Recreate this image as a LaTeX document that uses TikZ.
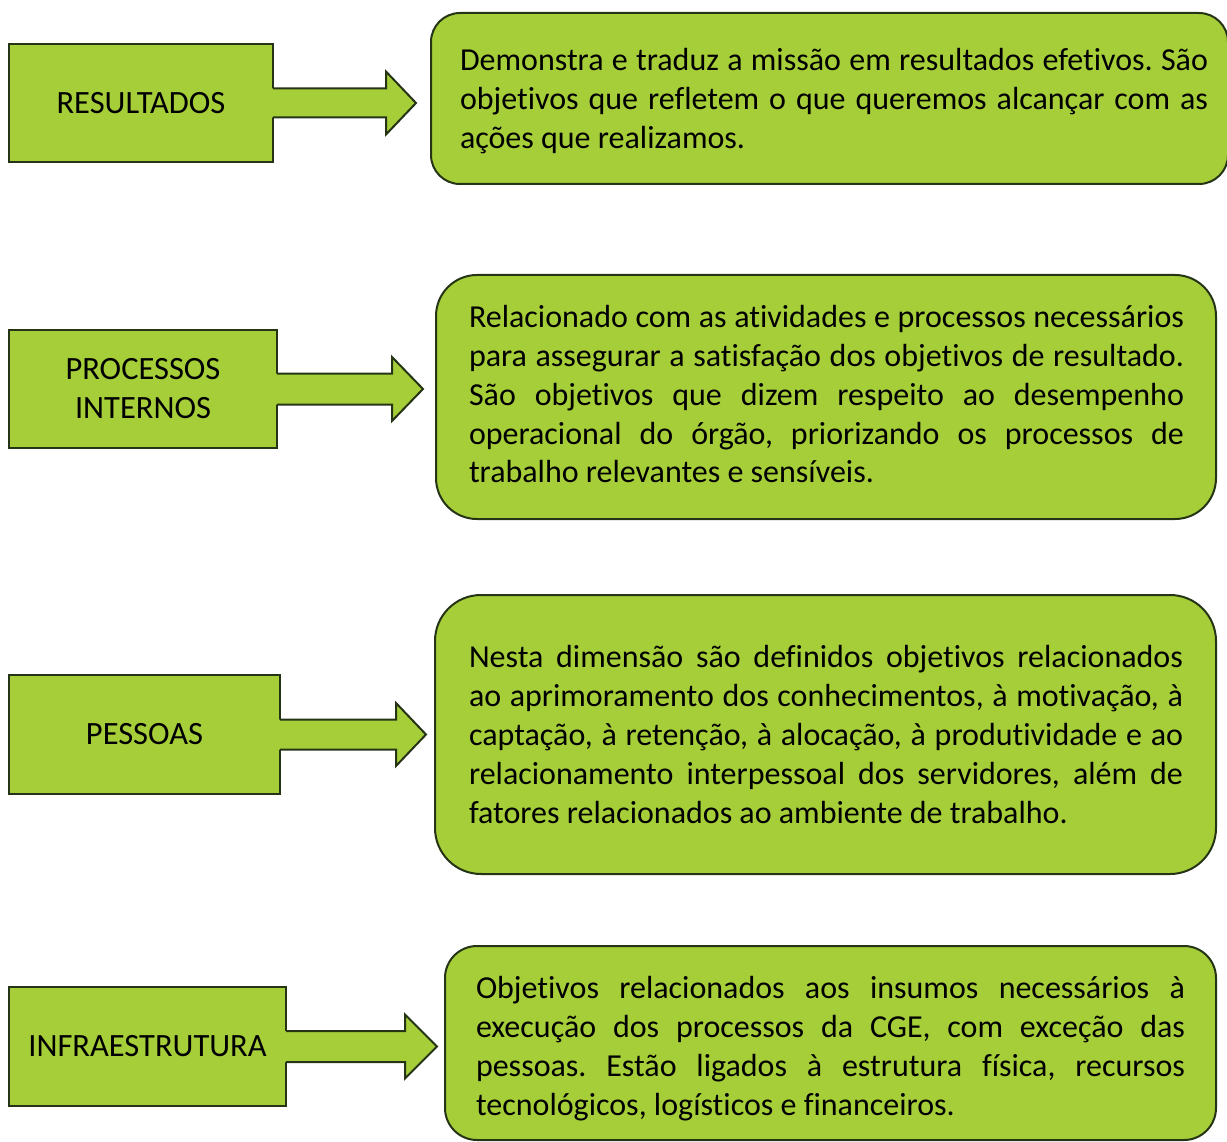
\documentclass[tikz,border=0pt]{standalone}
\usepackage{fontspec}
\setmainfont{Carlito}[Ligatures=CommonOff]
\usetikzlibrary{calc}
\definecolor{boxfill}{RGB}{166,206,57}
\definecolor{boxline}{RGB}{38,52,22}
\tikzset{
  x=1pt, y=-1pt,
  labelbox/.style={draw=boxline, fill=boxfill, line width=2pt, inner sep=0pt,
    align=center, font=\fontsize{32.5}{39}\selectfont},
  roundbox/.style={draw=boxline, fill=boxfill, line width=2pt, inner sep=0pt},
  bodytext/.style={anchor=base west, inner sep=0pt, outer sep=0pt},
  arrowfill/.style={fill=boxfill},
  arrowline/.style={draw=boxline, line width=2pt, line join=miter},
}
\newcommand{\bodyfont}{\fontsize{32}{39}\selectfont\frenchspacing}
\newcommand{\justln}[1]{\makebox[\linewidth][s]{#1}\\}
\newcommand{\lastln}[1]{\makebox[\linewidth][l]{#1}}
% #1 rect name, #2 shaft length, #3 head length, #4 shaft half, #5 head half
\newcommand{\greenarrow}[5]{%
  \coordinate (#1s) at (#1.east);
  \fill[arrowfill] ($(#1s)+(-2,-#4)$) -- ($(#1s)+(#2,-#4)$) -- ($(#1s)+(#2,-#5)$)
     -- ($(#1s)+(#2+#3,0)$) -- ($(#1s)+(#2,#5)$) -- ($(#1s)+(#2,#4)$) -- ($(#1s)+(-2,#4)$) -- cycle;
  \draw[arrowline] ($(#1s)+(-1,-#4)$) -- ($(#1s)+(#2,-#4)$) -- ($(#1s)+(#2,-#5)$)
     -- ($(#1s)+(#2+#3,0)$) -- ($(#1s)+(#2,#5)$) -- ($(#1s)+(#2,#4)$) -- ($(#1s)+(-1,#4)$);
}
\begin{document}
\begin{tikzpicture}
\useasboundingbox (0,0) rectangle (1227,1142);
\begin{scope}
\clip (0,0) rectangle (1227,1142);

% row 1
\node[labelbox, minimum width=264pt, minimum height=118pt] (r1) at (141,103) {RESULTADOS};
\greenarrow{r1}{112}{30}{14.5}{31.5}
\node[roundbox, rounded corners=29pt, minimum width=797pt, minimum height=171pt] (b1) at (829.5,98.5) {};
\node[bodytext] (t1) at (460,71) {\parbox[t]{748pt}{\bodyfont
\justln{Demonstra e traduz a missão em resultados efetivos. São}
\justln{objetivos que refletem o que queremos alcançar com as}
\lastln{ações que realizamos.}}};

% row 2
\node[labelbox, minimum width=268pt, minimum height=118pt] (r2) at (143,389) {PROCESSOS\\INTERNOS};
\greenarrow{r2}{114}{31}{15.5}{32}
\node[roundbox, rounded corners=41pt, minimum width=780pt, minimum height=244pt] (b2) at (826,397) {};
\node[bodytext] (t2) at (469,327) {\parbox[t]{715pt}{\bodyfont
\justln{Relacionado com as atividades e processos necessários}
\justln{para assegurar a satisfação dos objetivos de resultado.}
\justln{São objetivos que dizem respeito ao desempenho}
\justln{operacional do órgão, priorizando os processos de}
\lastln{trabalho relevantes e sensíveis.}}};

% row 3
\node[labelbox, minimum width=271pt, minimum height=119pt] (r3) at (144.5,734.5) {PESSOAS};
\greenarrow{r3}{115}{30}{15}{31.5}
\node[roundbox, rounded corners=46pt, minimum width=781pt, minimum height=279pt] (b3) at (825.5,734.5) {};
\node[bodytext] (t3) at (469,667) {\parbox[t]{714pt}{\bodyfont
\justln{Nesta dimensão são definidos objetivos relacionados}
\justln{ao aprimoramento dos conhecimentos, à motivação, à}
\justln{captação, à retenção, à alocação, à produtividade e ao}
\justln{relacionamento interpessoal dos servidores, além de}
\lastln{fatores relacionados ao ambiente de trabalho.}}};

% row 4
\node[labelbox, minimum width=277pt, minimum height=119pt] (r4) at (147.5,1046.5) {INFRAESTRUTURA};
\greenarrow{r4}{118}{32}{15.5}{32}
\node[roundbox, rounded corners=32pt, minimum width=771pt, minimum height=194pt] (b4) at (830.5,1043) {};
\node[bodytext] (t4) at (476,998) {\parbox[t]{709pt}{\bodyfont
\justln{Objetivos relacionados aos insumos necessários à}
\justln{execução dos processos da CGE, com exceção das}
\justln{pessoas. Estão ligados à estrutura física, recursos}
\lastln{tecnológicos, logísticos e financeiros.}}};
\end{scope}
\end{tikzpicture}
\end{document}
